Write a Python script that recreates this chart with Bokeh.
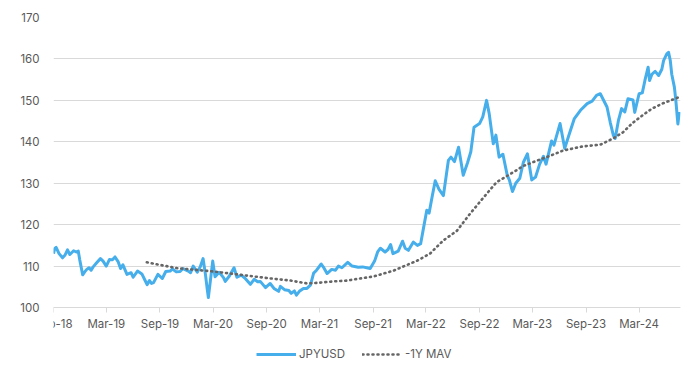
import pandas as pd
from bokeh.plotting import figure
from bokeh.models import (ColumnDataSource, FixedTicker, Range1d, Legend, LegendItem)
from bokeh.embed import file_html
from bokeh.resources import INLINE

# ---------------- data ----------------
jpy_dates = [
    "2018-09-01", "2018-09-05", "2018-09-10", "2018-09-20", "2018-10-02", "2018-10-10",
    "2018-10-19", "2018-10-27", "2018-11-09", "2018-11-18", "2018-11-25", "2018-11-30",
    "2018-12-10", "2018-12-17", "2018-12-24", "2019-01-01", "2019-01-08", "2019-01-15",
    "2019-01-27", "2019-02-09", "2019-02-18", "2019-03-01", "2019-03-12", "2019-03-22",
    "2019-03-31", "2019-04-11", "2019-04-19", "2019-04-27", "2019-05-11", "2019-05-25",
    "2019-06-01", "2019-06-16", "2019-07-01", "2019-07-13", "2019-07-19", "2019-07-27",
    "2019-08-03", "2019-08-10", "2019-08-25", "2019-09-09", "2019-09-21", "2019-10-06",
    "2019-10-14", "2019-10-27", "2019-11-09", "2019-11-19", "2019-12-07", "2019-12-15",
    "2019-12-24", "2020-01-07", "2020-01-17", "2020-01-27", "2020-02-04", "2020-02-10",
    "2020-02-14", "2020-02-21", "2020-02-29", "2020-03-08", "2020-03-22", "2020-04-06",
    "2020-04-12", "2020-04-26", "2020-05-12", "2020-05-22", "2020-06-06", "2020-06-21",
    "2020-07-07", "2020-07-20", "2020-08-01", "2020-08-10", "2020-08-28", "2020-09-13",
    "2020-09-26", "2020-10-12", "2020-10-18", "2020-11-01", "2020-11-16", "2020-11-24",
    "2020-12-05", "2020-12-12", "2020-12-22", "2021-01-05", "2021-01-17", "2021-01-29",
    "2021-02-09", "2021-02-19", "2021-03-07", "2021-03-15", "2021-03-27", "2021-04-12",
    "2021-04-25", "2021-05-05", "2021-05-17", "2021-06-06", "2021-06-21", "2021-07-12",
    "2021-07-27", "2021-08-10", "2021-08-22", "2021-09-06", "2021-09-17", "2021-09-26",
    "2021-10-12", "2021-10-22", "2021-10-31", "2021-11-08", "2021-11-26", "2021-12-11",
    "2021-12-20", "2021-12-31", "2022-01-17", "2022-01-31", "2022-02-11", "2022-02-19",
    "2022-03-04", "2022-03-12", "2022-03-22", "2022-04-02", "2022-04-15", "2022-04-30",
    "2022-05-10", "2022-05-17", "2022-05-26", "2022-06-07", "2022-06-21", "2022-07-07",
    "2022-07-22", "2022-08-02", "2022-08-13", "2022-09-01", "2022-09-12", "2022-09-25",
    "2022-10-04", "2022-10-18", "2022-10-27", "2022-11-07", "2022-11-20", "2022-12-05",
    "2022-12-12", "2022-12-23", "2023-01-03", "2023-01-17", "2023-01-29", "2023-02-12",
    "2023-02-27", "2023-03-12", "2023-03-26", "2023-04-08", "2023-04-17", "2023-05-06",
    "2023-05-14", "2023-06-04", "2023-06-20", "2023-07-04", "2023-07-23", "2023-08-13",
    "2023-09-05", "2023-09-22", "2023-10-07", "2023-10-20", "2023-11-12", "2023-11-23",
    "2023-12-04", "2023-12-10", "2023-12-21", "2024-01-01", "2024-01-12", "2024-01-23",
    "2024-02-09", "2024-02-15", "2024-03-01", "2024-03-12", "2024-03-21", "2024-04-01",
    "2024-04-06", "2024-04-14", "2024-04-25", "2024-05-07", "2024-05-18", "2024-05-24",
    "2024-06-04", "2024-06-10", "2024-06-16", "2024-06-21", "2024-06-30", "2024-07-05",
    "2024-07-12", "2024-07-17",
]
jpy_values = [
    113.0, 114.2, 114.5, 113.0, 112.0, 112.6,
    113.9, 112.8, 113.7, 113.4, 113.6, 111.5,
    107.9, 108.6, 109.2, 109.6, 109.0, 109.8,
    110.8, 111.8, 111.2, 110.0, 111.6, 111.5,
    112.2, 111.0, 109.4, 110.3, 108.0, 108.4,
    107.3, 108.8, 108.1, 106.4, 105.5, 106.5,
    105.8, 106.0, 108.0, 107.0, 108.7, 108.8,
    109.3, 108.6, 108.7, 109.4, 108.8, 108.4,
    110.0, 108.5, 109.8, 111.8, 108.0, 104.5,
    102.4, 106.5, 111.2, 107.4, 108.5, 107.2,
    106.3, 107.6, 109.6, 107.3, 107.8, 106.9,
    105.6, 106.8, 106.2, 106.3, 104.8, 105.8,
    104.6, 103.9, 105.1, 104.3, 104.1, 103.4,
    104.0, 103.0, 103.9, 104.6, 104.6, 105.4,
    108.3, 109.0, 110.5, 109.7, 108.2, 109.2,
    109.0, 110.0, 109.6, 110.9, 110.0, 109.7,
    109.8, 109.6, 109.4, 111.2, 113.5, 114.3,
    113.4, 114.0, 115.2, 113.0, 113.6, 116.0,
    114.3, 113.8, 115.8, 115.0, 115.4, 118.5,
    123.5, 122.8, 126.6, 130.6, 128.5, 127.0,
    132.0, 135.5, 136.3, 135.2, 138.7, 131.9,
    135.0, 137.6, 143.5, 144.4, 146.0, 150.0,
    146.8, 139.5, 141.6, 136.3, 137.0, 131.9,
    130.8, 128.0, 130.0, 131.2, 135.0, 137.1,
    130.8, 131.5, 134.6, 136.5, 134.6, 140.2,
    139.2, 144.4, 138.4, 141.5, 145.6, 147.6,
    149.2, 149.8, 151.2, 151.6, 148.4, 144.7,
    141.5, 140.8, 145.1, 148.0, 147.2, 150.4,
    150.1, 147.1, 151.6, 151.8, 154.8, 158.0,
    154.8, 156.3, 157.0, 156.0, 157.5, 159.6,
    161.2, 161.6, 159.6, 156.3, 153.2, 150.0,
    144.3, 147.2,
]

mav_dates = [
    "2019-07-18", "2019-10-29", "2020-03-02", "2020-05-10", "2020-09-03", "2020-11-22",
    "2021-01-18", "2021-03-03", "2021-04-18", "2021-06-03", "2021-09-03", "2021-11-10",
    "2022-01-30", "2022-03-15", "2022-04-30", "2022-06-15", "2022-07-30", "2022-09-15",
    "2022-10-30", "2022-12-15", "2023-01-30", "2023-03-15", "2023-04-30", "2023-06-15",
    "2023-08-22", "2023-10-20", "2023-12-03", "2024-01-06", "2024-02-07", "2024-03-11",
    "2024-04-14", "2024-05-22", "2024-07-10", "2024-07-20",
]
mav_values = [
    110.9, 109.5, 108.7, 108.1, 107.1, 106.5,
    105.8, 106.0, 106.3, 106.5, 107.5, 108.9,
    111.3, 113.0, 116.2, 118.5, 122.6, 126.6,
    130.3, 132.2, 134.2, 135.4, 136.6, 137.9,
    138.9, 139.3, 140.8, 142.3, 144.5, 146.3,
    148.0, 149.3, 150.6, 151.0,
]

tick_dates = ["2018-09-01", "2019-03-01", "2019-09-01", "2020-03-01", "2020-09-01",
              "2021-03-01", "2021-09-01", "2022-03-01", "2022-09-01", "2023-03-01",
              "2023-09-01", "2024-03-01"]
tick_labels = ["Sep-18", "Mar-19", "Sep-19", "Mar-20", "Sep-20", "Mar-21",
               "Sep-21", "Mar-22", "Sep-22", "Mar-23", "Sep-23", "Mar-24"]
y_ticks = [100, 110, 120, 130, 140, 150, 160, 170]

series_names = ["JPYUSD", "-1Y MAV"]

# ---------------- figure ----------------
FONT = "Inter"
TXT = "#595959"
GRID = "#d9d9d9"

jpy_src = ColumnDataSource(dict(x=pd.to_datetime(jpy_dates), y=jpy_values))
mav_src = ColumnDataSource(dict(x=pd.to_datetime(mav_dates), y=mav_values))

# the frame runs below 100 so that the legend can sit inside it; the x axis is pinned at 100
p = figure(
    x_axis_type="datetime",
    frame_width=627, frame_height=349,
    output_backend="svg", toolbar_location=None,
    min_border_left=53, min_border_right=12, min_border_top=17, min_border_bottom=0,
    x_range=Range1d(pd.Timestamp("2018-09-01"), pd.Timestamp("2024-07-21")),
    y_range=Range1d(85.76, 170),
)
p.outline_line_color = None
p.background_fill_color = "white"
p.border_fill_color = "white"

r1 = p.line("x", "y", source=jpy_src, line_color="#46AEEA", line_width=3, line_join="round")
r2 = p.line("x", "y", source=mav_src, line_color="#666666", line_width=2.6,
            line_dash="1 4", line_cap="round")

tick_ms = [pd.Timestamp(d).value // 10**6 for d in tick_dates]
p.xaxis.fixed_location = y_ticks[0]
p.xaxis.ticker = FixedTicker(ticks=tick_ms)
p.xaxis.major_label_overrides = {t: l for t, l in zip(tick_ms, tick_labels)}
p.xaxis.axis_line_color = GRID
p.xaxis.axis_line_width = 1
p.xaxis.major_tick_line_color = GRID
p.xaxis.major_tick_in = 0
p.xaxis.major_tick_out = 5
p.xaxis.minor_tick_line_color = None
p.xaxis.major_label_standoff = 4
p.xaxis.major_label_text_font = FONT
p.xaxis.major_label_text_font_size = "11.5px"
p.xaxis.major_label_text_color = TXT

p.yaxis.ticker = FixedTicker(ticks=y_ticks)
p.yaxis.axis_line_color = None
p.yaxis.major_tick_line_color = None
p.yaxis.minor_tick_line_color = None
p.yaxis.major_label_standoff = 8
p.yaxis.major_label_text_font = FONT
p.yaxis.major_label_text_font_size = "11.5px"
p.yaxis.major_label_text_color = TXT

p.xgrid.grid_line_color = None
p.ygrid.grid_line_color = GRID
p.ygrid.grid_line_width = 1

legend = Legend(
    items=[LegendItem(label=series_names[0], renderers=[r1]),
           LegendItem(label=series_names[1], renderers=[r2])],
    orientation="horizontal", location=(203, 5),
)
legend.label_text_font = FONT
legend.label_text_font_size = "11.5px"
legend.label_text_color = TXT
legend.border_line_color = None
legend.background_fill_alpha = 0
legend.glyph_width = 40
legend.glyph_height = 12
legend.label_height = 12
legend.spacing = 17
legend.padding = 0
legend.margin = 0
legend.label_standoff = 3
p.add_layout(legend, "center")

open("out.html", "w").write(file_html(p, INLINE))
